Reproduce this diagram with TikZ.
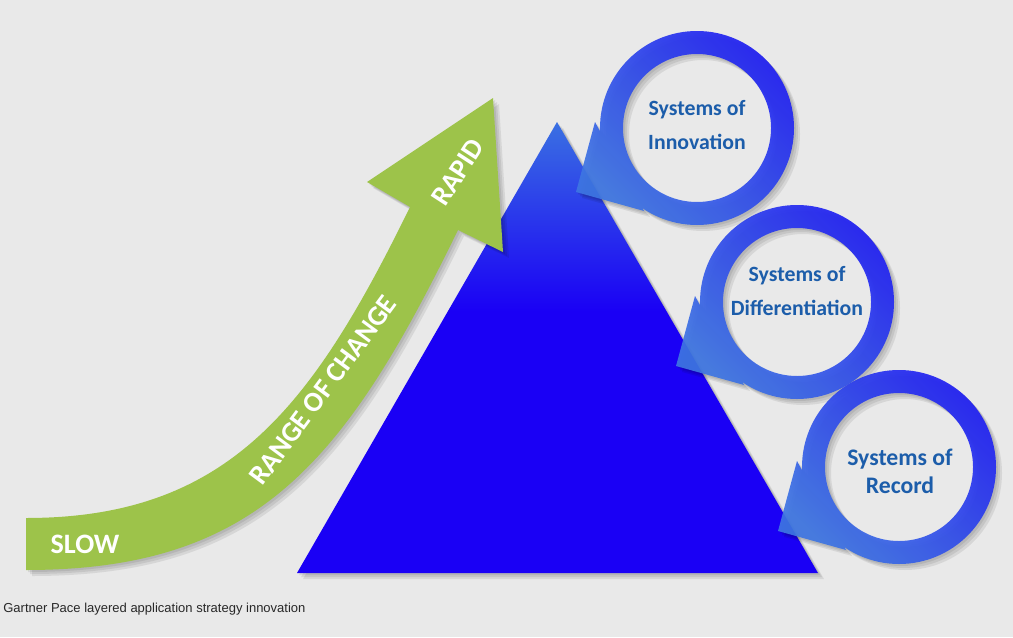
\documentclass[tikz,border=0pt]{standalone}
\usepackage{fontspec}
\setmainfont{Carlito}
\newfontfamily\captionfont{Liberation Sans}
\usetikzlibrary{positioning, calc}
\usepackage{xcolor}
\definecolor{bggray}{RGB}{233,233,233}
\definecolor{arrowgreen}{RGB}{157,195,74}
\definecolor{trilite}{RGB}{58,112,226}
\definecolor{trideep}{RGB}{26,0,245}
\definecolor{ringlite}{RGB}{62,118,226}
\definecolor{ringdeep}{RGB}{32,32,242}
\definecolor{labelblue}{RGB}{28,93,170}
\definecolor{captiongray}{RGB}{40,40,40}

\pgfdeclareverticalshading{triangleshade}{100bp}{color(0bp)=(trideep); color(25bp)=(trideep); color(54bp)=(trideep); color(75bp)=(trilite); color(100bp)=(trilite)}

\tikzset{
  shadowcopy/.style={fill=black, fill opacity=0.08},
  ringfill/.style={top color=ringlite, bottom color=ringdeep, shading angle=135, fill opacity=0.92},
  arrowlabel/.style={text=white, font=\bfseries\fontsize{16}{19}\selectfont},
  systemlabel/.style={text=labelblue, align=center, font=\bfseries\fontsize{12.4}{18.8}\selectfont},
  captionlabel/.style={text=captiongray, inner sep=0pt, font=\captionfont\fontsize{7.4}{9}\selectfont}
}

% outlines
\newcommand{\arrowoutline}{(26,119) .. controls (230,119) and (313,232) .. (410,430) -- (367,455) -- (493,539) -- (503,385) -- (458,407) .. controls (344,173) and (256,67) .. (26,67) -- cycle}
\newcommand{\triangleoutline}{(297,64) -- (557,515) -- (818,64) -- cycle}
\newcommand{\ringoutline}{(97,0) arc[start angle=0, end angle=360, radius=97] -- cycle (74,0) arc[start angle=0, end angle=-360, radius=74] -- cycle (-102,6) -- (-121,-64) -- (-53,-83) -- cycle}

\begin{document}
\begin{tikzpicture}[x=0.02cm, y=0.02cm]
  % Background
  \fill[bggray] (0,0) rectangle (1013,637);
  \useasboundingbox (0,0) rectangle (1013,637);

  % Pyramid
  \foreach \s in {2,4,6} {\fill[shadowcopy, shift={(\s,-\s)}] \triangleoutline;}
  \shade[shading=triangleshade] \triangleoutline;

  % Range of change arrow
  \foreach \s in {2,4,6} {\fill[shadowcopy, shift={(\s,-\s)}] \arrowoutline;}
  \fill[arrowgreen] \arrowoutline;
  \node[arrowlabel] (slow) at (85,93) {SLOW};
  \node[arrowlabel, rotate=53.5] (range) at (323,247) {RANGE OF CHANGE};
  \node[arrowlabel, rotate=57] (rapid) at (458,465) {RAPID};

  % Circular arrows
  \coordinate (inno) at (697,509);
  \coordinate (diff) at (797,335);
  \coordinate (record) at (899,170);
  \foreach \ctr in {inno, diff, record} {
    \begin{scope}[shift={(\ctr)}]
      \foreach \s in {2,4,6} {\fill[shadowcopy, shift={(\s,-\s)}] \ringoutline;}
      \shade[ringfill] \ringoutline;
    \end{scope}
  }
  \node[systemlabel] (innolabel) at (697,512) {Systems of\\Innovation};
  \node[systemlabel] (difflabel) at (797,346) {Systems of\\Differentiation};
  \node[systemlabel, font=\bfseries\fontsize{13.5}{16}\selectfont] (recordlabel) at (900,166) {Systems of\\Record};

  % Caption
  \node[captionlabel, anchor=base west] (caption) at (3,25) {Gartner Pace layered application strategy innovation};
\end{tikzpicture}
\end{document}
